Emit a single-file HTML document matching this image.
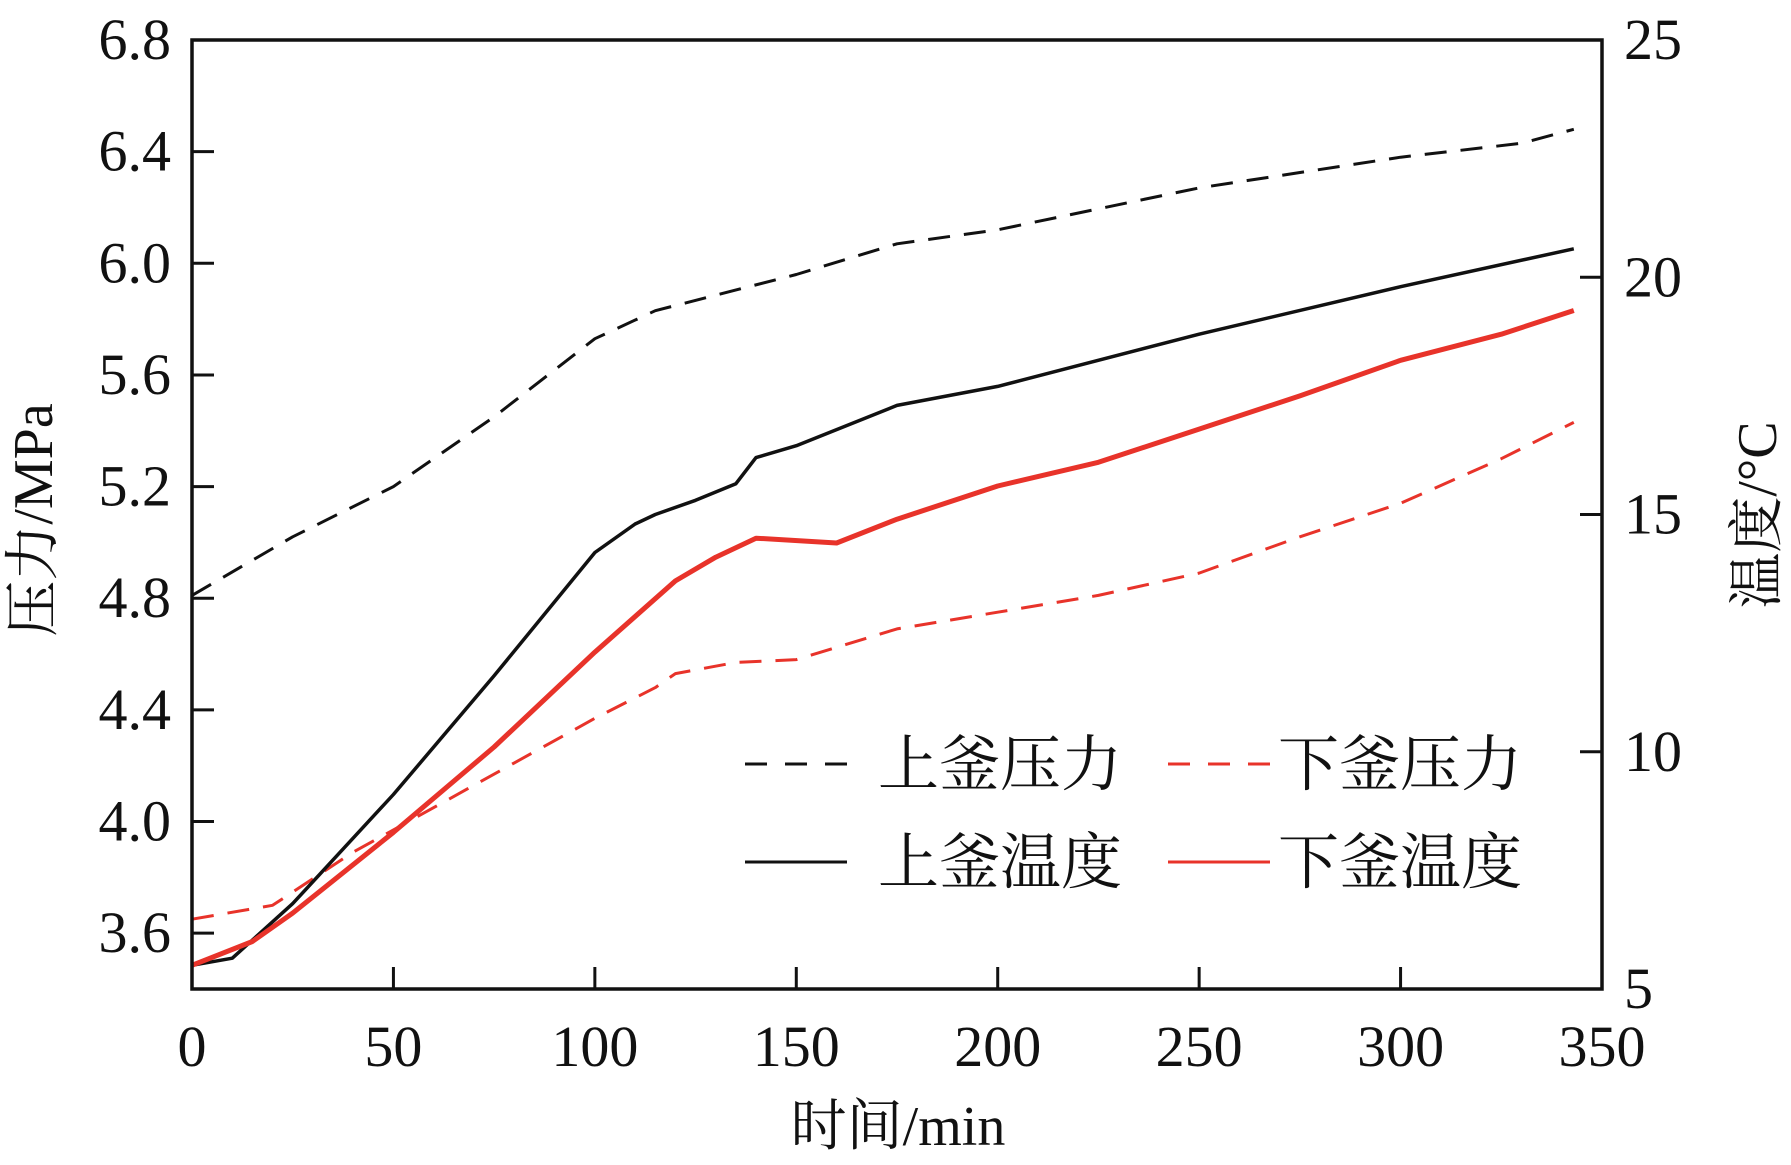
<!DOCTYPE html>
<html><head><meta charset="utf-8"><style>
html,body{margin:0;padding:0;background:#fff;}
svg text{font-family:"Liberation Serif","Noto Serif CJK SC","Noto Sans CJK SC",serif;fill:#111;}
</style></head><body>
<svg id="chart" width="1791" height="1160" viewBox="0 0 1791 1160" xmlns="http://www.w3.org/2000/svg">
<g id="series"></g>
<g id="axes"></g>
</svg>
<script>
const xTicks=[0,50,100,150,200,250,300,350];
const leftTicks=[3.6,4.0,4.4,4.8,5.2,5.6,6.0,6.4,6.8];
const leftTickLabels=["3.6","4.0","4.4","4.8","5.2","5.6","6.0","6.4","6.8"];
const rightTicks=[5,10,15,20,25];
const upPressT=[0,25,50,75,100,115,150,175,200,250,300,330,343];
const upPress=[4.81,5.02,5.20,5.45,5.73,5.83,5.96,6.07,6.12,6.27,6.38,6.43,6.48];
const lowPressT=[0,20,40,60,80,100,115,120,135,150,175,200,225,250,275,300,325,343];
const lowPress=[3.65,3.70,3.89,4.05,4.21,4.37,4.48,4.53,4.57,4.58,4.69,4.75,4.81,4.89,5.02,5.14,5.30,5.43];
const upTempT=[0,10,25,50,75,100,110,115,125,135,140,150,175,200,250,300,343];
const upTemp=[5.5,5.65,6.8,9.1,11.6,14.2,14.8,15.0,15.3,15.65,16.2,16.45,17.3,17.7,18.8,19.8,20.6];
const lowTempT=[0,15,25,50,75,100,120,130,140,160,175,200,225,250,275,300,325,343];
const lowTemp=[5.5,6.0,6.6,8.3,10.1,12.1,13.6,14.1,14.5,14.4,14.9,15.6,16.1,16.8,17.5,18.25,18.8,19.3];

const L=192,R=1602,T=40,B=989;
const sx=v=>L+(v/350)*(R-L);
const syL=v=>B-(v-3.4)/(6.8-3.4)*(B-T);
const syR=v=>B-(v-5)/(25-5)*(B-T);
const NS="http://www.w3.org/2000/svg";
const axes=document.getElementById('axes'), series=document.getElementById('series');
function mk(tag,attrs,parent){const e=document.createElementNS(NS,tag);for(const k in attrs)e.setAttribute(k,attrs[k]);parent.appendChild(e);return e;}

function line(xs,ys,fy,color,dash,w,name){
  const d=xs.map((x,i)=>(i?'L':'M')+sx(x).toFixed(1)+','+fy(ys[i]).toFixed(1)).join(' ');
  const p=mk('path',{d:d,fill:'none',stroke:color,'stroke-width':w,'stroke-linejoin':'round'},series);
  if(dash)p.setAttribute('stroke-dasharray',dash);
  
  
}
line(upPressT,upPress,syL,'#111','22,14',3,'upper-pressure-line');
line(lowPressT,lowPress,syL,'#e8332a','22,14',3,'lower-pressure-line');
line(upTempT,upTemp,syR,'#111',null,3.5,'upper-temperature-line');
line(lowTempT,lowTemp,syR,'#e8332a',null,5,'lower-temperature-line');

const frame=mk('rect',{x:L,y:T,width:R-L,height:B-T,fill:'none',stroke:'#111','stroke-width':3.5},axes);



xTicks.forEach(v=>{
  const x=sx(v);
  mk('line',{x1:x,y1:B,x2:x,y2:B-22,stroke:'#111','stroke-width':3},axes);
  const t=mk('text',{x:x,y:1066,'font-size':58,'text-anchor':'middle'},axes);
  t.textContent=String(v);
  
  
});
leftTicks.forEach((v,i)=>{
  const y=syL(v);
  mk('line',{x1:L,y1:y,x2:L+22,y2:y,stroke:'#111','stroke-width':3},axes);
  const t=mk('text',{x:171,y:y+19,'font-size':58,'text-anchor':'end'},axes);
  t.textContent=leftTickLabels[i];
  
  
});
rightTicks.forEach(v=>{
  const y=syR(v);
  mk('line',{x1:R,y1:y,x2:R-22,y2:y,stroke:'#111','stroke-width':3},axes);
  const t=mk('text',{x:1624,y:y+19,'font-size':58,'text-anchor':'start'},axes);
  t.textContent=String(v);
  
  
});
</script>
<svg style="position:absolute;left:0;top:0" width="1791" height="1160" xmlns="http://www.w3.org/2000/svg">
<text x="898" y="1145" font-size="56" text-anchor="middle">时间/min</text>
<text transform="translate(52,520) rotate(-90)" font-size="56" text-anchor="middle">压力/MPa</text>
<text transform="translate(1756,515) rotate(-90)" font-size="56" text-anchor="middle" dy="20">温度/°C</text>
<g>
<line x1="745" y1="764" x2="847" y2="764" stroke="#111" stroke-width="3" stroke-dasharray="22,18"/>
<text x="878" y="785" font-size="61">上釜压力</text>
<line x1="1168" y1="764" x2="1270" y2="764" stroke="#e8332a" stroke-width="3" stroke-dasharray="22,18"/>
<text x="1278" y="785" font-size="61">下釜压力</text>
<line x1="745" y1="862" x2="847" y2="862" stroke="#111" stroke-width="3"/>
<text x="878" y="883" font-size="61">上釜温度</text>
<line x1="1168" y1="862" x2="1270" y2="862" stroke="#e8332a" stroke-width="3"/>
<text x="1278" y="883" font-size="61">下釜温度</text>
</g>
</svg>
</body></html>
